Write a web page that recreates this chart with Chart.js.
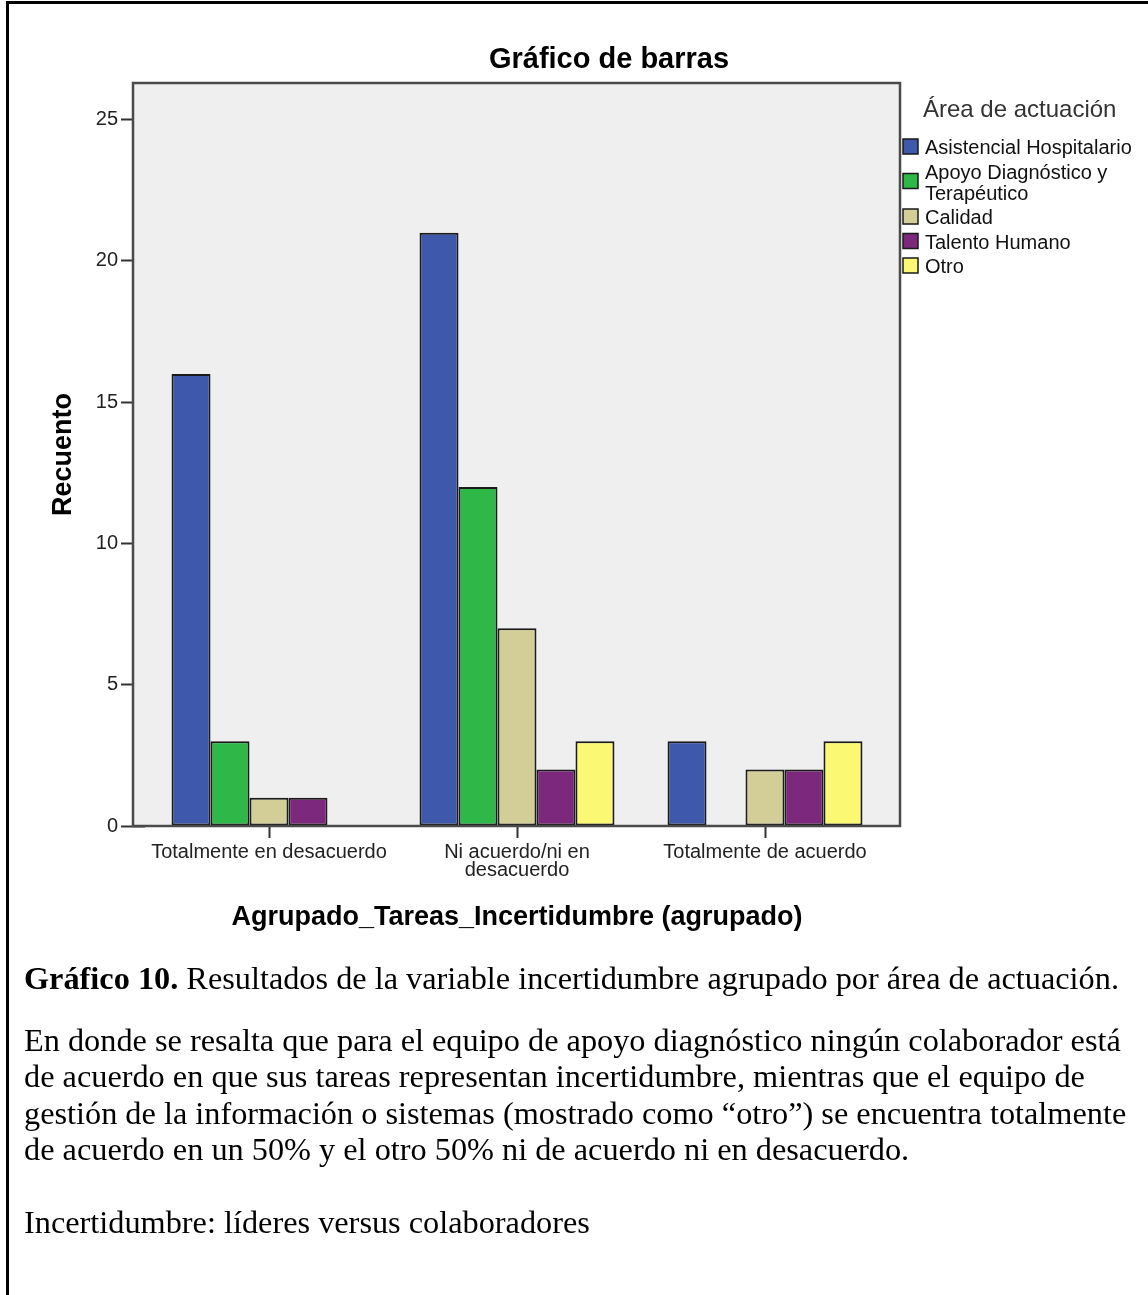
<!DOCTYPE html>
<html lang="es">
<head>
    <meta charset="UTF-8">
    <title>Gráfico de barras</title>
    <style>
        body { margin: 0; background: #fff; }
        #page { position: relative; width: 1148px; height: 1295px; overflow: hidden; }
        #frame { position: absolute; left: 6px; top: 1px; right: -10px; bottom: -10px;
                 border-left: 3px solid #000; border-top: 3px solid #000; }
        #chartBox { position: absolute; left: 0; top: 0; width: 1148px; height: 945px; }
        .txt { position: absolute; left: 24px; font-family: "Liberation Serif", "Times New Roman", serif;
               font-size: 32.3px; line-height: 36.3px; color: #000; white-space: nowrap; }
    </style>
</head>
<body>
<div id="page">
    <div id="chartBox"><canvas id="barras"></canvas></div>
    <div id="frame"></div>

    <div class="txt" style="top: 960px;"><b>Gráfico 10.</b> Resultados de la variable incertidumbre agrupado por área de actuación.</div>
    <div class="txt" style="top: 1022px;">
        En donde se resalta que para el equipo de apoyo diagnóstico ningún colaborador está<br>
        de acuerdo en que sus tareas representan incertidumbre, mientras que el equipo de<br>
        gestión de la información o sistemas (mostrado como “otro”) se encuentra totalmente<br>
        de acuerdo en un 50% y el otro 50% ni de acuerdo ni en desacuerdo.
    </div>
    <div class="txt" style="top: 1204px;">Incertidumbre: líderes versus colaboradores</div>
</div>

<script src="https://cdn.jsdelivr.net/npm/chart.js@4.4.0/dist/chart.umd.min.js"></script>
<script>
    // Categories (x axis)
    var categorias = ['Totalmente en desacuerdo', ['Ni acuerdo/ni en', 'desacuerdo'], 'Totalmente de acuerdo'];

    // Series names (legend)
    var areas = ['Asistencial Hospitalario', 'Apoyo Diagnóstico y\nTerapéutico', 'Calidad', 'Talento Humano', 'Otro'];
    var colores = ['#3e58ac', '#2eb848', '#d3ce97', '#7c287d', '#fbf873'];

    // Recuento per area, one value per category
    var asistencial = [16, 21, 3];
    var apoyo       = [3, 12, 0];
    var calidad     = [1, 7, 2];
    var talento     = [1, 2, 2];
    var otro        = [0, 3, 3];

    // Y axis ticks
    var yTicks = [0, 5, 10, 15, 20, 25];
    var yMax = 26.3;

    var series = [asistencial, apoyo, calidad, talento, otro];

    // SPSS leaves a small gap between the frame and the first/last category
    var insetL = 12, insetR = 11;

    var datasets = [];
    for (var i = 0; i < series.length; i++) {
        datasets.push({
            label: areas[i],
            data: series[i],
            backgroundColor: colores[i],
            borderColor: '#1a1a1a',
            borderWidth: 2,
            borderSkipped: false
        });
    }

    // Grey plot background and box around it
    var plotFrame = {
        id: 'plotFrame',
        afterLayout: function(chart) {
            // SPSS centres the chart title over the whole chart, legend included
            var t = chart.titleBlock;
            if (t) {
                t.left = 70;
                t.right = chart.width;
                t.width = t.right - t.left;
            }
        },
        beforeDatasetsDraw: function(chart) {
            var a = chart.chartArea, ctx = chart.ctx;
            ctx.save();
            ctx.fillStyle = '#efefef';
            ctx.fillRect(a.left - insetL, a.top, a.right - a.left + insetL + insetR, a.bottom - a.top);
            ctx.restore();
        },
        afterDatasetsDraw: function(chart) {
            var a = chart.chartArea, ctx = chart.ctx;
            ctx.save();
            ctx.strokeStyle = '#4a4a4a';
            ctx.lineWidth = 2.5;
            ctx.strokeRect(a.left - insetL, a.top, a.right - a.left + insetL + insetR, a.bottom - a.top);
            ctx.restore();
        }
    };

    // SPSS style legend on the right (handles the two line label)
    var sideLegend = {
        id: 'sideLegend',
        afterDraw: function(chart) {
            var ctx = chart.ctx;
            var x = chart.chartArea.right + insetR + 3;
            ctx.save();
            ctx.fillStyle = '#333';
            ctx.font = '24px "Liberation Sans", Arial, sans-serif';
            ctx.textBaseline = 'alphabetic';
            ctx.fillText('Área de actuación', x + 20, 117);

            ctx.font = '20px "Liberation Sans", Arial, sans-serif';
            var base = 154;
            chart.data.datasets.forEach(function(ds) {
                var lines = ds.label.split('\n');
                var boxTop = base - 15 + (lines.length - 1) * 10;
                ctx.fillStyle = ds.backgroundColor;
                ctx.fillRect(x, boxTop, 15, 15);
                ctx.strokeStyle = '#1a1a1a';
                ctx.lineWidth = 1.5;
                ctx.strokeRect(x, boxTop, 15, 15);
                ctx.fillStyle = '#111';
                lines.forEach(function(t, k) {
                    ctx.fillText(t, x + 22, base + k * 21);
                });
                base += (lines.length - 1) * 21 + 24.5;
            });
            ctx.restore();
        }
    };

    var ctx = document.getElementById('barras');
    var chart = new Chart(ctx, {
        type: 'bar',
        data: {
            labels: categorias,
            datasets: datasets
        },
        options: {
            responsive: true,
            maintainAspectRatio: false,
            animation: false,
            categoryPercentage: 0.786,
            barPercentage: 1.0,
            layout: { padding: { left: 20, right: 259, top: 0, bottom: 0 } },
            plugins: {
                legend: { display: false },
                tooltip: { enabled: false },
                title: {
                    display: true,
                    text: 'Gráfico de barras',
                    fullSize: false,
                    color: '#000',
                    font: { family: '"Liberation Sans", Arial, sans-serif', size: 29, weight: 'bold' },
                    padding: { top: 42.6, bottom: 5.6 }
                }
            },
            scales: {
                x: {
                    offset: true,
                    afterFit: function(scale) { scale.height = 119; },
                    grid: { display: true, offset: false, drawOnChartArea: false, drawTicks: true,
                            tickLength: 12, tickWidth: 2, tickColor: '#333' },
                    border: { display: false },
                    ticks: { autoSkip: false, maxRotation: 0, padding: 5, color: '#222',
                             font: { family: '"Liberation Sans", Arial, sans-serif', size: 20, lineHeight: 0.9 } },
                    title: {
                        display: true,
                        text: 'Agrupado_Tareas_Incertidumbre (agrupado)',
                        color: '#000',
                        font: { family: '"Liberation Sans", Arial, sans-serif', size: 27, weight: 'bold' },
                        padding: { top: 0, bottom: 11.2 }
                    }
                },
                y: {
                    min: 0,
                    max: yMax,
                    afterFit: function(scale) { scale.width = 125; },
                    afterBuildTicks: function(scale) {
                        scale.ticks = yTicks.map(function(v) { return { value: v }; });
                    },
                    grid: { display: true, drawOnChartArea: false, drawTicks: true,
                            tickLength: 24, tickWidth: 2, tickColor: '#333' },
                    border: { display: false },
                    ticks: { padding: 3, color: '#222',
                             font: { family: '"Liberation Sans", Arial, sans-serif', size: 20 } },
                    title: {
                        display: true,
                        text: 'Recuento',
                        color: '#000',
                        font: { family: '"Liberation Sans", Arial, sans-serif', size: 27, weight: 'bold' },
                        padding: { top: 27.4, bottom: 0 }
                    }
                }
            }
        },
        plugins: [plotFrame, sideLegend]
    });
</script>
</body>
</html>
